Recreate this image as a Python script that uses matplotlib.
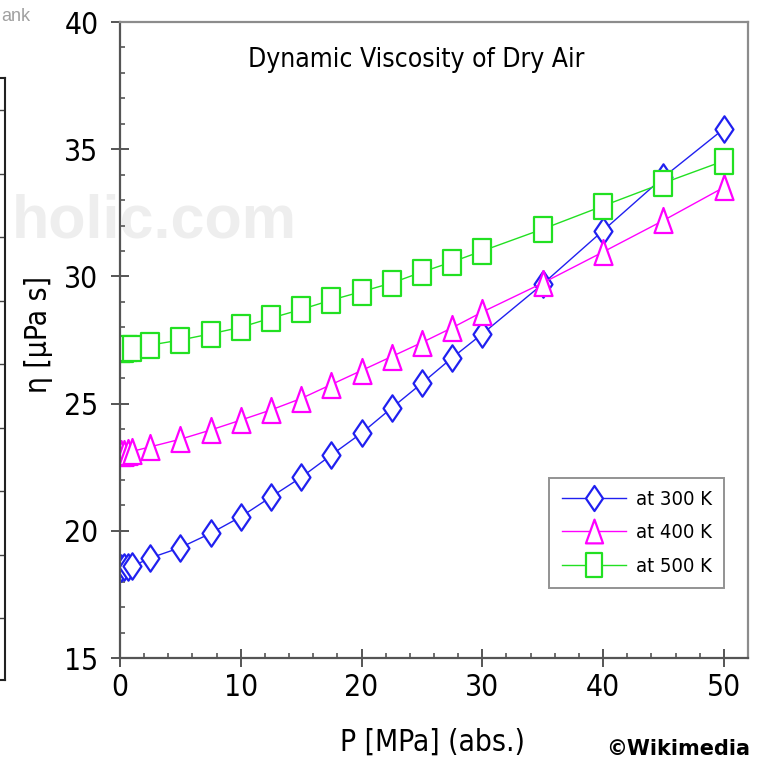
import numpy as np
import matplotlib
matplotlib.use("Agg")
import matplotlib.pyplot as plt
from matplotlib import font_manager
from matplotlib.path import Path
from matplotlib.ticker import MultipleLocator

# the chart uses a narrow sans; take the narrowest one that is installed
fonts = font_manager.fontManager.ttflist
names = {f.name for f in fonts}
if 'Liberation Sans Narrow' in names:
    plt.rcParams['font.family'] = ['Liberation Sans Narrow', 'DejaVu Sans']
    narrow = True
elif any(f.name == 'DejaVu Sans' and str(f.stretch) == 'condensed' for f in fonts):
    plt.rcParams['font.family'] = ['DejaVu Sans']
    plt.rcParams['font.stretch'] = 'condensed'
    narrow = True
else:
    plt.rcParams['font.family'] = ['Liberation Sans', 'DejaVu Sans']
    narrow = False

# pressure [MPa] and viscosity [uPa s]
pressure = [0.1, 0.35, 0.65, 1.0, 2.5, 5, 7.5, 10, 12.5, 15, 17.5, 20,
            22.5, 25, 27.5, 30, 35, 40, 45, 50]
eta_300 = [18.55, 18.56, 18.58, 18.6, 18.93, 19.34, 19.9, 20.55, 21.33, 22.1,
           22.98, 23.84, 24.83, 25.8, 26.8, 27.74, 29.7, 31.8, 33.9, 35.8]
eta_400 = [23.05, 23.07, 23.1, 23.12, 23.3, 23.6, 23.96, 24.35, 24.75, 25.2,
           25.75, 26.3, 26.85, 27.4, 27.98, 28.6, 29.74, 30.96, 32.2, 33.5]
eta_500 = [27.15, 27.16, 27.17, 27.2, 27.3, 27.5, 27.74, 28.0, 28.36, 28.7,
           29.07, 29.4, 29.74, 30.17, 30.57, 31.0, 31.86, 32.77, 33.67, 34.54]
labels = ['at 300 K', 'at 400 K', 'at 500 K']
colors = ['#2020f0', '#ff00ff', '#22e022']

# tall markers
diamond = Path([(0, 1), (0.68, 0), (0, -1), (-0.68, 0), (0, 1)],
               [1, 2, 2, 2, 79])
triangle = Path([(0, 1), (0.72, -1), (-0.72, -1), (0, 1)], [1, 2, 2, 79])
rect = Path([(-0.7, -1), (0.7, -1), (0.7, 1), (-0.7, 1), (-0.7, -1)],
            [1, 2, 2, 2, 79])

big = 21.5 if narrow else 20
title_size = 19 if narrow else 18
leg_size = 14.5 if narrow else 14

fig = plt.figure(figsize=(7.68, 7.61), dpi=100)

# watermark and stray bits of the page around the chart
fig.text(12 / 768, 1 - 238 / 761, 'holic.com', fontsize=44,
         family='Liberation Sans', fontweight='bold', color='#eeeeee',
         stretch='normal', zorder=-5)
fig.text(1 / 768, 1 - 21 / 761, 'ank', fontsize=13, family='Liberation Sans',
         stretch='normal', color='#a0a0a0', ha='left', va='baseline')
fig.text(750 / 768, 1 - 755 / 761, '©Wikimedia', fontsize=15,
         family='DejaVu Sans', fontweight='bold', ha='right', va='baseline',
         stretch='normal')

# cut-off neighbouring chart at the left edge
side = fig.add_axes([-0.3, 1 - 680 / 761, 0.3 + 5 / 768, (680 - 78) / 761])
side.set_facecolor('none')
side.set_ylim(-62, 540)
side.yaxis.set_major_locator(MultipleLocator(63.5))
side.tick_params(left=False, right=True, labelleft=False, direction='in',
                 length=4, width=1, color='#444444', bottom=False,
                 labelbottom=False)
for s in side.spines.values():
    s.set_linewidth(1.5)
    s.set_color('#222222')

ax = fig.add_axes([120 / 768, 1 - 658 / 761, 628 / 768, 636 / 761])
ax.set_facecolor('none')

markers = [diamond, triangle, rect]
sizes = [19, 18, 18]
for y, lab, c, m, ms in zip([eta_300, eta_400, eta_500], labels, colors,
                            markers, sizes):
    ax.plot(pressure, y, color=c, lw=1.0, marker=m, markersize=ms,
            markerfacecolor='white', markeredgecolor=c, markeredgewidth=1.6,
            label=lab)

ax.set_xlim(0, 52)
ax.set_ylim(15, 40)
ax.xaxis.set_major_locator(MultipleLocator(10))
ax.xaxis.set_minor_locator(MultipleLocator(2))
ax.yaxis.set_major_locator(MultipleLocator(5))
ax.yaxis.set_minor_locator(MultipleLocator(1))
ax.tick_params(which='major', direction='inout', length=13, width=1.4,
               color='#555555', labelsize=big, top=False, right=False)
ax.tick_params(axis='y', which='major', pad=9)
ax.tick_params(axis='x', which='major', pad=4)
ax.tick_params(which='minor', direction='in', length=3.6, width=1.2,
               color='#555555', top=False, right=False)

for side_name in ['left', 'bottom']:
    ax.spines[side_name].set_color('#555555')
    ax.spines[side_name].set_linewidth(1.6)
for side_name in ['top', 'right']:
    ax.spines[side_name].set_color('#8c8c8c')
    ax.spines[side_name].set_linewidth(1.6)

ax.set_xlabel('P [MPa] (abs.)', fontsize=big)
ax.set_ylabel('η [μPa s]', fontsize=big)
ax.xaxis.set_label_coords(0.497, -0.110)
ax.yaxis.set_label_coords(-0.107, 0.508)
ax.text(0.471, 0.940, 'Dynamic Viscosity of Dry Air', transform=ax.transAxes,
        fontsize=title_size, ha='center', va='center')

leg = ax.legend(loc='lower right', bbox_to_anchor=(0.962, 0.110),
                borderaxespad=0, fontsize=leg_size, frameon=True,
                fancybox=False, handlelength=3.2, handletextpad=0.5,
                borderpad=0.6, labelspacing=0.72, markerscale=0.95)
leg.get_frame().set_edgecolor('#777777')
leg.get_frame().set_linewidth(1.4)

fig.savefig('out.png', dpi=100)
